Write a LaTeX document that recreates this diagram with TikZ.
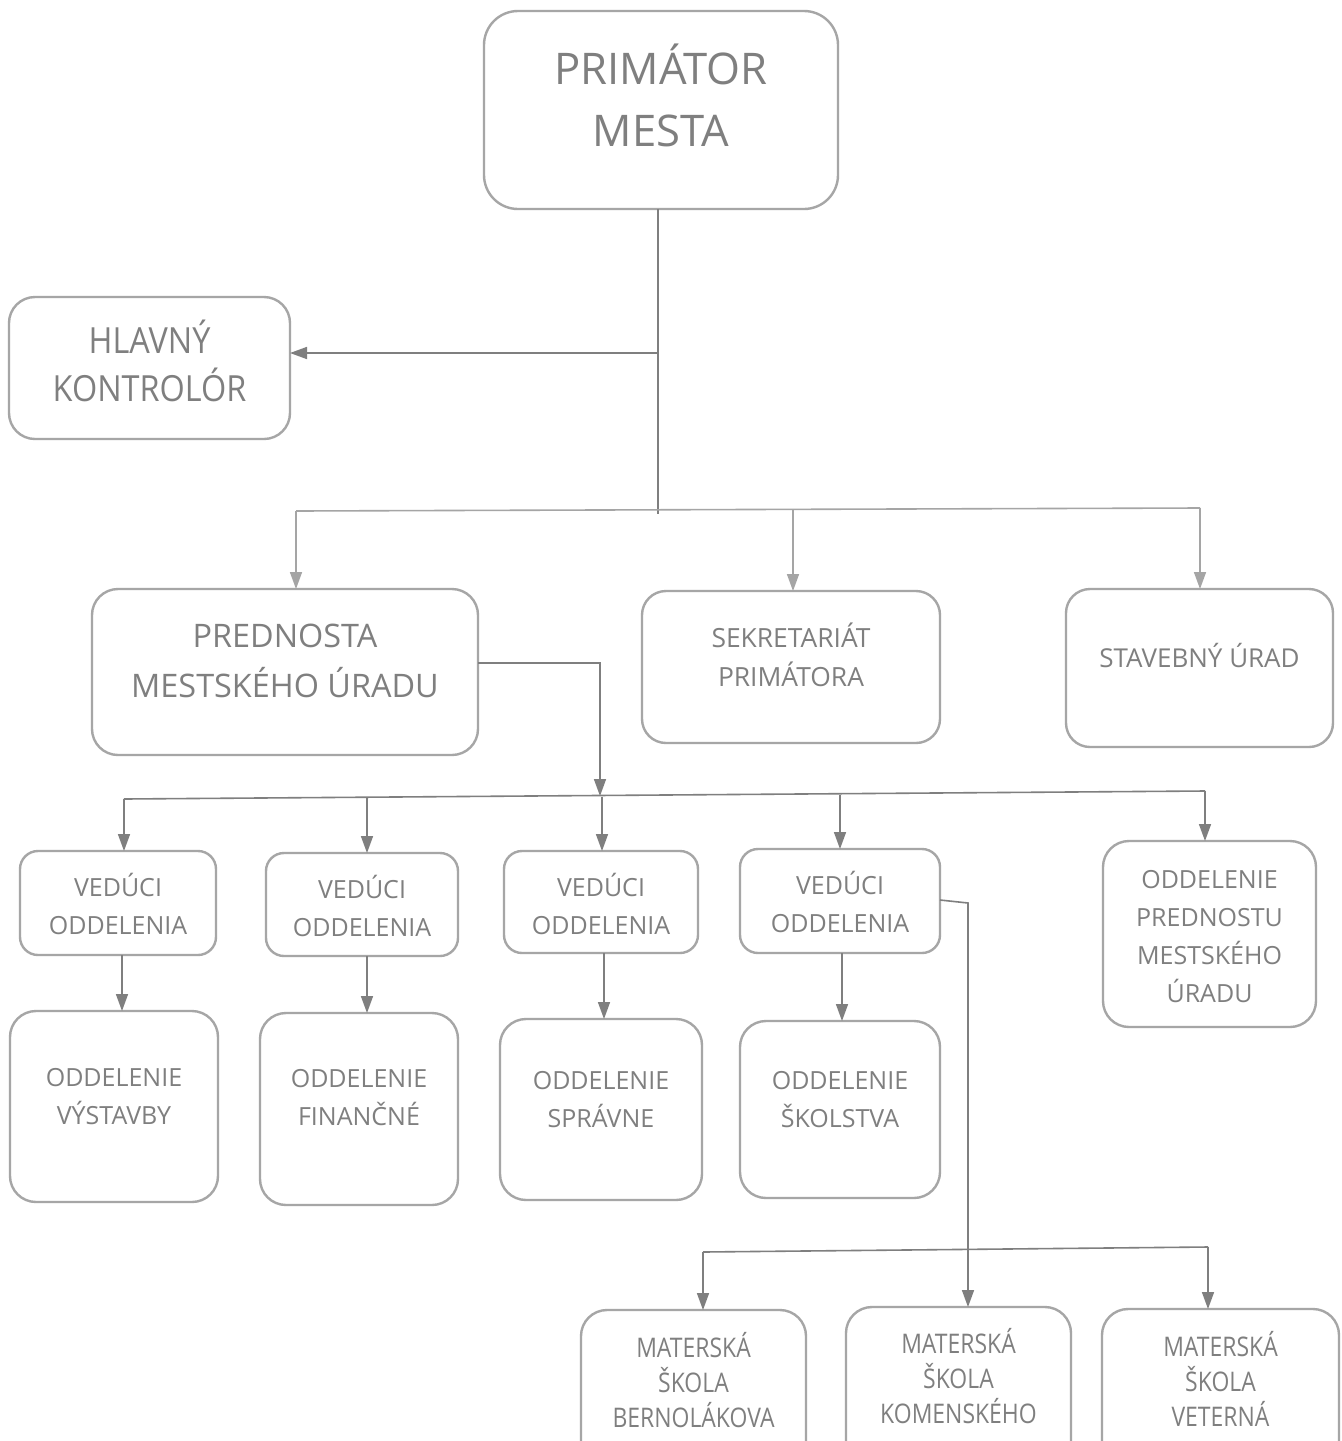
\documentclass[tikz,border=0pt]{standalone}
\usepackage{fontspec}
\setmainfont{Open Sans}
\newfontfamily\condfont[FakeStretch=0.9]{Open Sans}
\newfontfamily\condmfont[FakeStretch=0.85]{Open Sans}
\usetikzlibrary{arrows.meta}
\definecolor{boxgray}{HTML}{A6A6A6}
\definecolor{txtgray}{HTML}{7F7F7F}
\definecolor{lngray}{HTML}{7F7F7F}
\definecolor{lightln}{HTML}{A5A5A5}
\begin{document}
\begin{tikzpicture}[x=0.5pt,y=-0.5pt,
  box/.style={draw=boxgray, line width=1.2pt, rounded corners=11pt, inner sep=0pt, outer sep=0pt, fill=white},
  lbl/.style={text=txtgray, align=center, inner sep=0pt},
  big/.style={font=\fontsize{21.8}{31}\selectfont},
  hkf/.style={font=\condfont\fontsize{18}{24}\selectfont},
  mid/.style={font=\fontsize{16.2}{25}\selectfont},
  small/.style={font=\fontsize{12.5}{19}\selectfont},
  sekf/.style={font=\fontsize{13.2}{19.5}\selectfont},
  stavf/.style={font=\fontsize{13}{19}\selectfont},
  msf/.style={font=\condmfont\fontsize{13.5}{17.5}\selectfont},
  ln/.style={draw=lngray, line width=0.8pt},
  arr/.style={draw=lngray, line width=0.8pt, -{Triangle[width=6pt,length=8.5pt]}},
  larr/.style={draw=lightln, line width=0.8pt, -{Triangle[width=6pt,length=8.5pt]}}]
\useasboundingbox (0,0) rectangle (1341,1441);
\clip (0,0) rectangle (1341,1441);
\fill[white] (0,0) rectangle (1341,1441);

% boxes
\node[box, minimum width=177pt, minimum height=99pt, rounded corners=17pt,
  label={[lbl,big,yshift=7.5pt]center:PRIMÁTOR\\MESTA}] (prim) at (661,110) {};
\node[box, minimum width=140.5pt, minimum height=71pt, rounded corners=13pt,
  label={[lbl,hkf,yshift=3.5pt]center:HLAVNÝ\\KONTROLÓR}] (hk) at (149.5,368) {};
\node[box, minimum width=193pt, minimum height=83pt, rounded corners=13pt,
  label={[lbl,mid,yshift=5.5pt]center:PREDNOSTA\\MESTSKÉHO ÚRADU}] (pred) at (285,672) {};
\node[box, minimum width=149pt, minimum height=76pt, rounded corners=12pt,
  label={[lbl,sekf,yshift=6.3pt]center:SEKRETARIÁT\\PRIMÁTORA}] (sek) at (791,667) {};
\node[box, minimum width=133.5pt, minimum height=79pt, rounded corners=12pt,
  label={[lbl,stavf,yshift=6pt]center:STAVEBNÝ ÚRAD}] (stav) at (1199.5,668) {};

\node[box, minimum width=98pt, minimum height=52pt, rounded corners=9pt,
  label={[lbl,small,yshift=-0.5pt]center:VEDÚCI\\ODDELENIA}] (v1) at (118,903) {};
\node[box, minimum width=96pt, minimum height=51.5pt, rounded corners=9pt,
  label={[lbl,small,yshift=-0.7pt]center:VEDÚCI\\ODDELENIA}] (v2) at (362,904.5) {};
\node[box, minimum width=97pt, minimum height=51pt, rounded corners=9pt,
  label={[lbl,small,yshift=-1pt]center:VEDÚCI\\ODDELENIA}] (v3) at (601,902) {};
\node[box, minimum width=100pt, minimum height=52pt, rounded corners=9pt,
  label={[lbl,small,yshift=-0.5pt]center:VEDÚCI\\ODDELENIA}] (v4) at (840,901) {};
\node[box, minimum width=106.5pt, minimum height=93pt, rounded corners=13pt,
  label={[lbl,small,yshift=-1.5pt]center:ODDELENIE\\PREDNOSTU\\MESTSKÉHO\\ÚRADU}] (op) at (1209.5,934) {};

\node[box, minimum width=104pt, minimum height=95.5pt, rounded corners=13pt,
  label={[lbl,small,yshift=5.2pt]center:ODDELENIE\\VÝSTAVBY}] (o1) at (114,1106.5) {};
\node[box, minimum width=99pt, minimum height=96pt, rounded corners=13pt,
  label={[lbl,small,yshift=5.5pt]center:ODDELENIE\\FINANČNÉ}] (o2) at (359,1109) {};
\node[box, minimum width=101pt, minimum height=90.5pt, rounded corners=13pt,
  label={[lbl,small,yshift=5.2pt]center:ODDELENIE\\SPRÁVNE}] (o3) at (601,1109.5) {};
\node[box, minimum width=100pt, minimum height=88.5pt, rounded corners=13pt,
  label={[lbl,small,yshift=5.2pt]center:ODDELENIE\\ŠKOLSTVA}] (o4) at (840,1109.5) {};

\node[box, minimum width=112.5pt, minimum height=85pt, rounded corners=13pt,
  label={[lbl,msf,yshift=7.5pt]center:MATERSKÁ\\ŠKOLA\\BERNOLÁKOVA}] (m1) at (693.5,1395) {};
\node[box, minimum width=112.5pt, minimum height=86.5pt, rounded corners=13pt,
  label={[lbl,msf,yshift=8.7pt]center:MATERSKÁ\\ŠKOLA\\KOMENSKÉHO}] (m2) at (958.5,1393.5) {};
\node[box, minimum width=118.5pt, minimum height=85.5pt, rounded corners=13pt,
  label={[lbl,msf,yshift=7.7pt]center:MATERSKÁ\\ŠKOLA\\VETERNÁ}] (m3) at (1220.5,1394.5) {};

% connectors from primator
\coordinate (p0) at (658,209);
\coordinate (p1) at (658,514);
\coordinate (pk) at (658,353);
\draw[ln] (p0) -- (p1);
\draw[arr] (pk) -- (pk -| hk.east);
\coordinate (b1l) at (296,511);
\coordinate (b1m) at (793,509.5);
\coordinate (b1r) at (1200,508);
\draw[ln, draw=lightln] (b1l) -- (b1r);
\draw[larr] (b1l) -- (b1l |- pred.north);
\draw[larr] (b1m) -- (b1m |- sek.north);
\draw[larr] (b1r) -- (b1r |- stav.north);

% from prednosta
\coordinate (q0) at (pred.east |- 0,663);
\coordinate (q1) at (600,663);
\coordinate (q2) at (600,796);
\draw[arr] (q0) -- (q1) -- (q2);
\coordinate (b2a) at (124,799);
\coordinate (b2b) at (367,798);
\coordinate (b2c) at (602,796.5);
\coordinate (b2d) at (840,795);
\coordinate (b2e) at (1205,791);
\draw[ln] (b2a) -- (b2e);
\draw[arr] (b2a) -- (b2a |- v1.north);
\draw[arr] (b2b) -- (b2b |- v2.north);
\draw[arr] (b2c) -- (b2c |- v3.north);
\draw[arr] (b2d) -- (b2d |- v4.north);
\draw[arr] (b2e) -- (b2e |- op.north);

% vedúci -> oddelenie
\draw[arr] (122,955) -- (122,955 |- o1.north);
\draw[arr] (367,956) -- (367,956 |- o2.north);
\draw[arr] (604,953) -- (604,953 |- o3.north);
\draw[arr] (842,953) -- (842,953 |- o4.north);

% školstvo -> materské školy
\coordinate (s0) at (v4.east |- 0,900);
\coordinate (s1) at (968,903);
\draw[arr] (s0) -- (s1) -- (s1 |- m2.north);
\coordinate (b3l) at (703,1252);
\coordinate (b3r) at (1208,1247);
\draw[ln] (b3l) -- (b3r);
\draw[arr] (b3l) -- (b3l |- m1.north);
\draw[arr] (b3r) -- (b3r |- m3.north);
\end{tikzpicture}
\end{document}
